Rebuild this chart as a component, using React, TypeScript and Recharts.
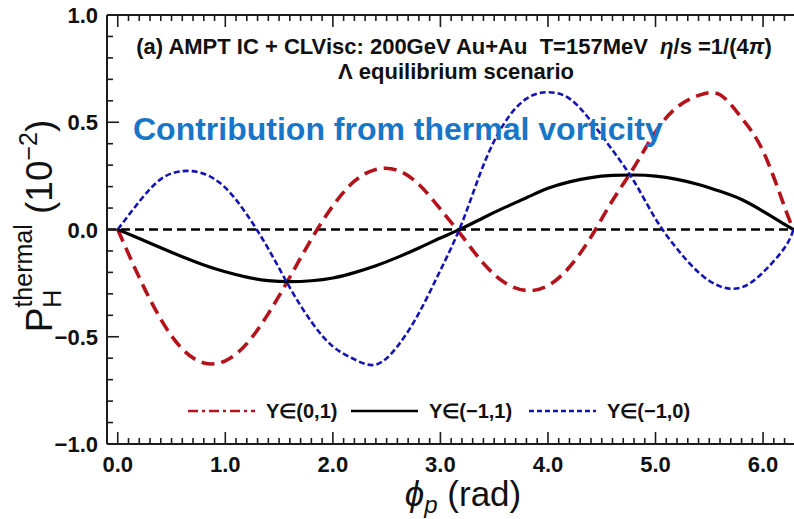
import { LineChart, Line, XAxis, YAxis, ReferenceLine, Legend } from 'recharts';

// azimuthal angle of the hyperon (rad)
const PHI = [
  0, 0.2, 0.4, 0.6, 0.8, 1.0, 1.2, 1.4, 1.6, 1.8, 2.0, 2.2, 2.4, 2.6, 2.8, 3.0,
  3.2, 3.4, 3.6, 3.8, 4.0, 4.2, 4.4, 4.6, 4.8, 5.0, 5.2, 5.4, 5.6, 5.8, 6.0, 6.2, 6.283,
];

// P_H thermal, units of 1e-2, per rapidity window
const Y_0_1 = [
  0, -0.224, -0.418, -0.557, -0.622, -0.612, -0.532, -0.392, -0.222, -0.045, 0.11, 0.225,
  0.28, 0.276, 0.21, 0.095, -0.03, -0.158, -0.248, -0.284, -0.262, -0.175, -0.035, 0.135,
  0.29, 0.455, 0.57, 0.625, 0.628, 0.52, 0.365, 0.105, 0,
];
const Y_M1_1 = [
  0, -0.042, -0.085, -0.127, -0.165, -0.197, -0.222, -0.238, -0.243, -0.239, -0.226, -0.201,
  -0.169, -0.13, -0.086, -0.04, 0.005, 0.055, 0.103, 0.148, 0.192, 0.222, 0.242, 0.252,
  0.254, 0.249, 0.234, 0.21, 0.178, 0.14, 0.085, 0.024, 0,
];
const Y_M1_0 = [
  0, 0.13, 0.235, 0.272, 0.26, 0.195, 0.07, -0.09, -0.271, -0.43, -0.545, -0.605,
  -0.63, -0.545, -0.39, -0.19, 0.03, 0.3, 0.5, 0.61, 0.64, 0.61, 0.505, 0.37,
  0.225, 0.05, -0.09, -0.2, -0.265, -0.27, -0.2, -0.085, 0,
];

const X_MAJOR = [0, 1, 2, 3, 4, 5, 6];
const X_LABELS = ['0.0', '1.0', '2.0', '3.0', '4.0', '5.0', '6.0'];
const Y_MAJOR = [-1, -0.5, 0, 0.5, 1];
const Y_LABELS = ['\u22121.0', '\u22120.5', '0.0', '0.5', '1.0'];

const data = PHI.map((phi, i) => ({ phi, a: Y_0_1[i], b: Y_M1_1[i], c: Y_M1_0[i] }));

// minor ticks every 0.1 on both axes
const X_TICKS = Array.from({ length: 64 }, (_, i) => i / 10);
const Y_TICKS = Array.from({ length: 21 }, (_, i) => (i - 10) / 10);
const X_DOMAIN: [number, number] = [-0.1, 6.362];

const FONT = '"Liberation Sans", Arial, Helvetica, sans-serif';
const INK = '#111';
const FRAME = '#1c1c1c';
const RED = '#b3141c';
const BLUE = '#1414b4';
const MAJOR_LEN = 12;
const MINOR_LEN = 6;

const near = (a: number, b: number) => Math.abs(a - b) < 1e-6;

const xMajorIndex = (v: number) => X_MAJOR.findIndex((m) => near(m, v));
const yMajorIndex = (v: number) => Y_MAJOR.findIndex((m) => near(m, v));

const BottomTick = (props: any) => {
  const { x, y, payload } = props;
  const idx = xMajorIndex(payload.value);
  const len = idx >= 0 ? MAJOR_LEN : MINOR_LEN;
  return (
    <g>
      <line x1={x} x2={x} y1={y} y2={y - len} stroke={FRAME} strokeWidth={1.6} />
      {idx >= 0 && (
        <text x={x} y={y + 28} textAnchor="middle" fontFamily={FONT} fontWeight="bold" fontSize={22} fill={INK}>
          {X_LABELS[idx]}
        </text>
      )}
    </g>
  );
};

const TopTick = (props: any) => {
  const { x, y, payload } = props;
  const len = xMajorIndex(payload.value) >= 0 ? MAJOR_LEN : MINOR_LEN;
  return <line x1={x} x2={x} y1={y} y2={y + len} stroke={FRAME} strokeWidth={1.6} />;
};

const LeftTick = (props: any) => {
  const { x, y, payload } = props;
  const idx = yMajorIndex(payload.value);
  const len = idx >= 0 ? MAJOR_LEN : MINOR_LEN;
  return (
    <g>
      <line x1={x} x2={x + len} y1={y} y2={y} stroke={FRAME} strokeWidth={1.6} />
      {idx >= 0 && (
        <text x={x - 9} y={y + 8} textAnchor="end" fontFamily={FONT} fontWeight="bold" fontSize={22} fill={INK}>
          {Y_LABELS[idx]}
        </text>
      )}
    </g>
  );
};

const RightTick = (props: any) => {
  const { x, y, payload } = props;
  const len = yMajorIndex(payload.value) >= 0 ? MAJOR_LEN : MINOR_LEN;
  return <line x1={x} x2={x - len} y1={y} y2={y} stroke={FRAME} strokeWidth={1.6} />;
};

const SERIES = [
  { key: 'a', label: 'Y\u2208(0,1)', color: RED, width: 3.6, dash: '13 7', legendDash: '10 4 3 4' },
  { key: 'b', label: 'Y\u2208(\u22121,1)', color: '#000', width: 3.2, dash: undefined, legendDash: undefined },
  { key: 'c', label: 'Y\u2208(\u22121,0)', color: BLUE, width: 2.6, dash: '6 3', legendDash: '5 3' },
];

// legend item offsets (sample start, text start) inside the legend box
const LEGEND_POS = [
  [0, 78],
  [163, 241],
  [341, 419],
];

const renderLegend = () => (
  <svg width={520} height={30}>
    {SERIES.map((s, i) => (
      <g key={s.key}>
        <line
          x1={LEGEND_POS[i][0]}
          x2={LEGEND_POS[i][0] + 67}
          y1={15}
          y2={15}
          stroke={s.color}
          strokeWidth={s.key === 'b' ? 2.4 : 2.6}
          strokeDasharray={s.legendDash}
        />
        <text x={LEGEND_POS[i][1]} y={22} fontFamily={FONT} fontWeight="bold" fontSize={20} fill={INK}>
          {s.label}
        </text>
      </g>
    ))}
  </svg>
);

const frameLine = { stroke: FRAME, strokeWidth: 2 };

export default function App() {
  return (
    <div style={{ position: 'fixed', left: 0, top: 0, width: 794, height: 519, overflow: 'hidden', background: '#fff' }}>
      <LineChart width={812} height={519} data={data} margin={{ top: 14, right: 9, bottom: 74, left: 106 }}>
        <XAxis
          dataKey="phi"
          type="number"
          domain={X_DOMAIN}
          ticks={X_TICKS}
          interval={0}
          tickSize={0}
          tickMargin={0}
          tickLine={false}
          tick={BottomTick}
          axisLine={frameLine}
          height={1}
        />
        <XAxis
          xAxisId="top"
          orientation="top"
          dataKey="phi"
          type="number"
          domain={X_DOMAIN}
          ticks={X_TICKS}
          interval={0}
          tickSize={0}
          tickMargin={0}
          tickLine={false}
          tick={TopTick}
          axisLine={frameLine}
          height={1}
        />
        <YAxis
          type="number"
          domain={[-1, 1]}
          ticks={Y_TICKS}
          interval={0}
          tickSize={0}
          tickMargin={0}
          tickLine={false}
          tick={LeftTick}
          axisLine={frameLine}
          width={1}
        />
        <YAxis
          yAxisId="right"
          orientation="right"
          type="number"
          domain={[-1, 1]}
          ticks={Y_TICKS}
          interval={0}
          tickSize={0}
          tickMargin={0}
          tickLine={false}
          tick={RightTick}
          axisLine={frameLine}
          width={1}
        />
        <ReferenceLine y={0} stroke="#000" strokeWidth={2.4} strokeDasharray="9 5" />
        {SERIES.map((s) => (
          <Line
            key={s.key}
            dataKey={s.key}
            type="natural"
            stroke={s.color}
            strokeWidth={s.width}
            strokeDasharray={s.dash}
            dot={false}
            isAnimationActive={false}
          />
        ))}
        <Legend
          content={renderLegend}
          layout="horizontal"
          verticalAlign="middle"
          align="center"
          wrapperStyle={{ left: 188, top: 396, width: 520, height: 30 }}
        />
      </LineChart>

      <svg
        width={794}
        height={519}
        style={{ position: 'absolute', left: 0, top: 0, pointerEvents: 'none' }}
        fontFamily={FONT}
      >
        <text x={454} y={54} textAnchor="middle" fontSize={22} fontWeight="bold" fill={INK} style={{ whiteSpace: 'pre' }}>
          {'(a) AMPT IC + CLVisc: 200GeV Au+Au  T=157MeV  '}
          <tspan fontStyle="italic">η</tspan>
          {'/s =1/(4'}
          <tspan fontStyle="italic">π</tspan>
          {')'}
        </text>
        <text x={456} y={79} textAnchor="middle" fontSize={22} fontWeight="bold" fill={INK}>
          Λ equilibrium scenario
        </text>
        <text x={133} y={140} fontSize={32} fontWeight="bold" fill="#1876c8">
          Contribution from thermal vorticity
        </text>

        <text x={463} y={506} textAnchor="middle" fontSize={35} fill={INK} style={{ whiteSpace: 'pre' }}>
          <tspan fontStyle="italic">{'\u03d5'}</tspan>
          <tspan fontStyle="italic" fontSize={24} dy={7}>p</tspan>
          <tspan dy={-7}>{' (rad)'}</tspan>
        </text>

        <text
          transform="translate(52,226) rotate(-90)"
          textAnchor="middle"
          fontSize={37}
          fill={INK}
          style={{ whiteSpace: 'pre' }}
        >
          P
          <tspan fontSize={25} dy={9}>H</tspan>
          <tspan fontSize={25} dx={-18} dy={-29}>thermal</tspan>
          <tspan fontSize={37} dy={20}>{' (10'}</tspan>
          <tspan fontSize={25} dy={-15}>{'\u22122'}</tspan>
          <tspan fontSize={37} dy={15}>)</tspan>
        </text>
      </svg>
    </div>
  );
}
